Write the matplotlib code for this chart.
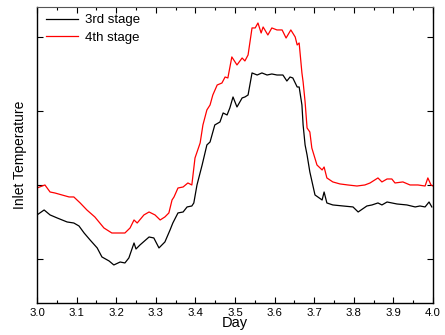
import matplotlib
matplotlib.use("Agg")
import matplotlib.pyplot as plt
from matplotlib.ticker import MultipleLocator, NullFormatter

plt.rcParams['font.family'] = ['Liberation Sans', 'DejaVu Sans']

x3 = [3.000, 3.018, 3.033, 3.051, 3.076, 3.093, 3.106, 3.119, 3.134, 3.152, 3.164, 3.182,
      3.194, 3.210, 3.222, 3.232, 3.245, 3.250, 3.260, 3.283, 3.295, 3.308, 3.323, 3.336,
      3.343, 3.356, 3.369, 3.379, 3.391, 3.396, 3.404, 3.417, 3.429, 3.437, 3.449, 3.462,
      3.470, 3.480, 3.487, 3.495, 3.505, 3.518, 3.525, 3.533, 3.543, 3.556, 3.568, 3.581,
      3.593, 3.606, 3.621, 3.631, 3.639, 3.646, 3.657, 3.662, 3.669, 3.672, 3.677, 3.682,
      3.689, 3.702, 3.720, 3.725, 3.732, 3.747, 3.773, 3.798, 3.811, 3.833, 3.846, 3.861,
      3.871, 3.884, 3.909, 3.934, 3.955, 3.967, 3.980, 3.990, 3.997]
y3 = [15.95, 16.62, 15.95, 15.54, 15.00, 14.86, 14.46, 13.51, 12.57, 11.49, 10.27, 9.73,
      9.19, 9.59, 9.46, 10.14, 12.16, 11.35, 11.89, 12.97, 12.84, 11.49, 12.30, 13.92,
      14.86, 16.22, 16.35, 17.03, 17.16, 17.57, 20.00, 22.70, 25.41, 25.81, 28.11, 28.51,
      29.73, 29.46, 30.41, 31.89, 30.54, 31.76, 31.89, 32.16, 35.14, 34.86, 35.14, 34.86,
      35.00, 34.86, 34.86, 34.05, 34.59, 34.46, 33.24, 33.24, 30.81, 28.11, 25.41, 24.05,
      21.76, 18.65, 17.97, 19.05, 17.57, 17.30, 17.16, 17.03, 16.35, 17.16, 17.30, 17.57,
      17.30, 17.70, 17.43, 17.30, 17.03, 17.16, 17.03, 17.70, 17.03]

x4 = [3.000, 3.020, 3.033, 3.045, 3.063, 3.081, 3.093, 3.109, 3.126, 3.146, 3.169, 3.189,
      3.222, 3.235, 3.245, 3.253, 3.270, 3.283, 3.298, 3.311, 3.323, 3.333, 3.341, 3.346,
      3.356, 3.369, 3.381, 3.391, 3.399, 3.412, 3.419, 3.429, 3.437, 3.444, 3.455, 3.467,
      3.475, 3.482, 3.492, 3.505, 3.518, 3.525, 3.533, 3.543, 3.551, 3.558, 3.566, 3.571,
      3.583, 3.593, 3.606, 3.619, 3.629, 3.641, 3.652, 3.657, 3.662, 3.669, 3.672, 3.677,
      3.682, 3.689, 3.694, 3.707, 3.720, 3.725, 3.732, 3.747, 3.765, 3.785, 3.808, 3.828,
      3.841, 3.861, 3.871, 3.884, 3.896, 3.904, 3.924, 3.942, 3.962, 3.980, 3.987, 3.995,
      4.000]
y4 = [19.59, 20.00, 19.05, 18.92, 18.65, 18.38, 18.38, 17.57, 16.62, 15.68, 14.19, 13.51,
      13.51, 14.19, 15.27, 14.86, 15.95, 16.35, 15.95, 15.27, 15.68, 16.22, 17.97, 18.38,
      19.59, 19.73, 20.27, 20.00, 23.65, 25.68, 28.11, 30.14, 30.81, 32.16, 33.51, 33.78,
      34.59, 34.46, 37.30, 36.22, 37.16, 36.76, 37.57, 41.22, 41.22, 41.89, 40.54, 41.35,
      40.27, 41.22, 40.95, 40.95, 39.86, 40.95, 40.00, 38.92, 39.19, 35.14, 33.92, 31.22,
      27.70, 27.16, 25.00, 22.70, 22.03, 22.43, 20.95, 20.41, 20.14, 20.00, 19.86, 20.00,
      20.27, 20.95, 20.41, 20.81, 20.81, 20.27, 20.41, 20.00, 20.00, 19.86, 20.95, 20.00,
      19.86]

fig = plt.figure(figsize=(4.45, 3.35), dpi=100)
ax = fig.add_axes([37/445, 1-303/335, 396/445, 296/335])

ax.plot(x3, y3, color='black', lw=0.9, label='3rd stage')
ax.plot(x4, y4, color='#ff0000', lw=0.9, label='4th stage')

ax.set_xlim(3.0, 4.0)
ax.set_ylim(4.05, 44.05)
ax.xaxis.set_major_locator(MultipleLocator(0.1))
ax.xaxis.set_minor_locator(MultipleLocator(0.05))
ax.yaxis.set_major_locator(MultipleLocator(10))
ax.yaxis.set_major_formatter(NullFormatter())
ax.tick_params(axis='both', which='major', direction='in', length=4, width=0.8,
               top=True, right=True, labelsize=8.2, pad=3.5)
ax.tick_params(axis='x', which='minor', direction='in', length=2, width=0.8, top=True)
ax.tick_params(axis='y', which='minor', left=False, right=False)
for s in ['left', 'bottom', 'right']:
    ax.spines[s].set_linewidth(1.0)
ax.spines['top'].set_color('#555555')

ax.set_xlabel('Day', fontsize=10.5, labelpad=-1)
ax.set_ylabel('Inlet Temperature', fontsize=10, labelpad=4)

ax.legend(loc='upper left', frameon=False, fontsize=9.5, handlelength=2.4,
          handletextpad=0.5, borderaxespad=0.0, labelspacing=0.38,
          borderpad=0.55, bbox_to_anchor=(0.005, 1.0))

fig.savefig('out.png', dpi=100)
